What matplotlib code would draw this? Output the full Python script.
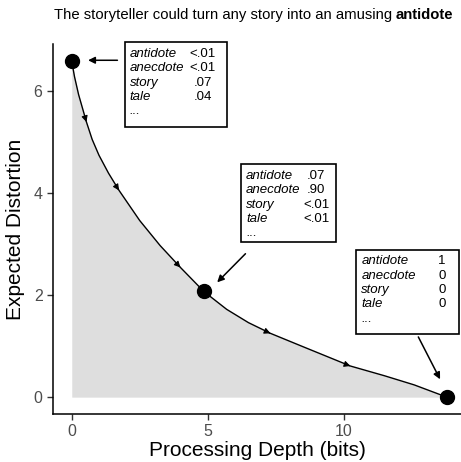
import numpy as np
import matplotlib.pyplot as plt
from matplotlib.patches import Rectangle

plt.rcParams['font.family'] = ['Liberation Sans', 'DejaVu Sans']

# кривая
depth = [0, 0.1, 0.25, 0.54, 0.75, 1.0, 1.35, 1.74, 2.5, 3.25, 4.0, 4.86, 5.7, 6.5, 7.31,
         8.5, 10.25, 11.5, 12.6, 13.8]
distortion = [6.58, 6.28, 5.93, 5.39, 5.05, 4.74, 4.39, 4.05, 3.46, 2.97, 2.54, 2.07, 1.72,
              1.46, 1.25, 0.99, 0.61, 0.42, 0.24, 0.0]
arrow_idx = [3, 7, 10, 14, 16]
point_idx = [0, 11, 19]

words = ['antidote', 'anecdote', 'story', 'tale']
probs = [['<.01', '<.01', '.07', '.04'],
         ['.07', '.90', '<.01', '<.01'],
         ['1', '0', '0', '0']]
# рамки: (лево, право, верх, низ), колонка значений
boxes = [(1.95, 5.72, 6.95, 5.29, 4.82),
         (6.23, 9.72, 4.56, 3.03, 9.0),
         (10.47, 14.26, 2.89, 1.24, 13.62)]
# стрелки от рамки к точке
pointers = [((1.68, 6.60), (0.60, 6.60)),
            ((6.39, 2.81), (5.35, 2.25)),
            ((12.75, 1.18), (13.55, 0.35))]

fig = plt.figure(figsize=(4.61, 4.62), dpi=100)
ax = fig.add_axes([0.115, 0.1039, 0.885, 0.801])

x = np.array(depth)
y = np.array(distortion)
ax.fill_between(x, 0, y, color='#dedede', lw=0)
ax.plot(x, y, color='black', lw=1.0, solid_joinstyle='round')

for i in arrow_idx:
    dx = x[i + 1] - x[i - 1]
    dy = y[i + 1] - y[i - 1]
    n = np.hypot(dx, dy)
    ax.annotate('', xy=(x[i], y[i]), xytext=(x[i] - 0.05 * dx / n, y[i] - 0.05 * dy / n),
                arrowprops=dict(arrowstyle='-|>', color='black', lw=0.8, mutation_scale=9,
                                shrinkA=0, shrinkB=0))

ax.plot(x[point_idx], y[point_idx], 'o', color='black', ms=10, clip_on=False, zorder=5)

for (l, r, t, b, vx), vals in zip(boxes, probs):
    ax.add_patch(Rectangle((l, b), r - l, t - b, fill=True, facecolor='white',
                           edgecolor='black', lw=1.2, clip_on=False, zorder=6))
    ax.text(l + 0.18, t - 0.11, '\n'.join(words + ['...']), style='italic', fontsize=9.5,
            va='top', ha='left', linespacing=1.26, zorder=7)
    ax.text(vx, t - 0.11, '\n'.join(vals), fontsize=9.5, va='top', ha='center',
            multialignment='center', linespacing=1.26, zorder=7)

for (x0, y0), (x1, y1) in pointers:
    ax.annotate('', xy=(x1, y1), xytext=(x0, y0),
                arrowprops=dict(arrowstyle='-|>', color='black', lw=1.1, mutation_scale=10,
                                shrinkA=0, shrinkB=0))

ax.set_xlim(-0.69, 14.32)
ax.set_ylim(-0.33, 6.92)
ax.set_xticks([0, 5, 10])
ax.set_yticks([0, 2, 4, 6])
ax.spines['top'].set_visible(False)
ax.spines['right'].set_visible(False)
for s in ['left', 'bottom']:
    ax.spines[s].set_linewidth(1.1)
ax.tick_params(colors='#333333', labelcolor='#4d4d4d', labelsize=11.5, length=4, width=1)
ax.set_xlabel('Processing Depth (bits)', fontsize=15, labelpad=1)
ax.set_ylabel('Expected Distortion', fontsize=15, labelpad=6)

# заголовок: обычная часть + жирное слово
t1 = fig.text(0.5, 0.9675, 'The storyteller could turn any story into an amusing ',
              fontsize=10.7, va='center', ha='left')
fig.canvas.draw()
bb = t1.get_window_extent()
t2 = fig.text(0, 0.9675, 'antidote', fontsize=10.7, fontweight='bold', va='center', ha='left')
bb2 = t2.get_window_extent()
w = bb.width + bb2.width
start = (52 + 455) / 2 / 461 * fig.bbox.width - w / 2
t1.set_x(start / fig.bbox.width)
t2.set_x((start + bb.width) / fig.bbox.width)

fig.savefig('out.png', dpi=100)
